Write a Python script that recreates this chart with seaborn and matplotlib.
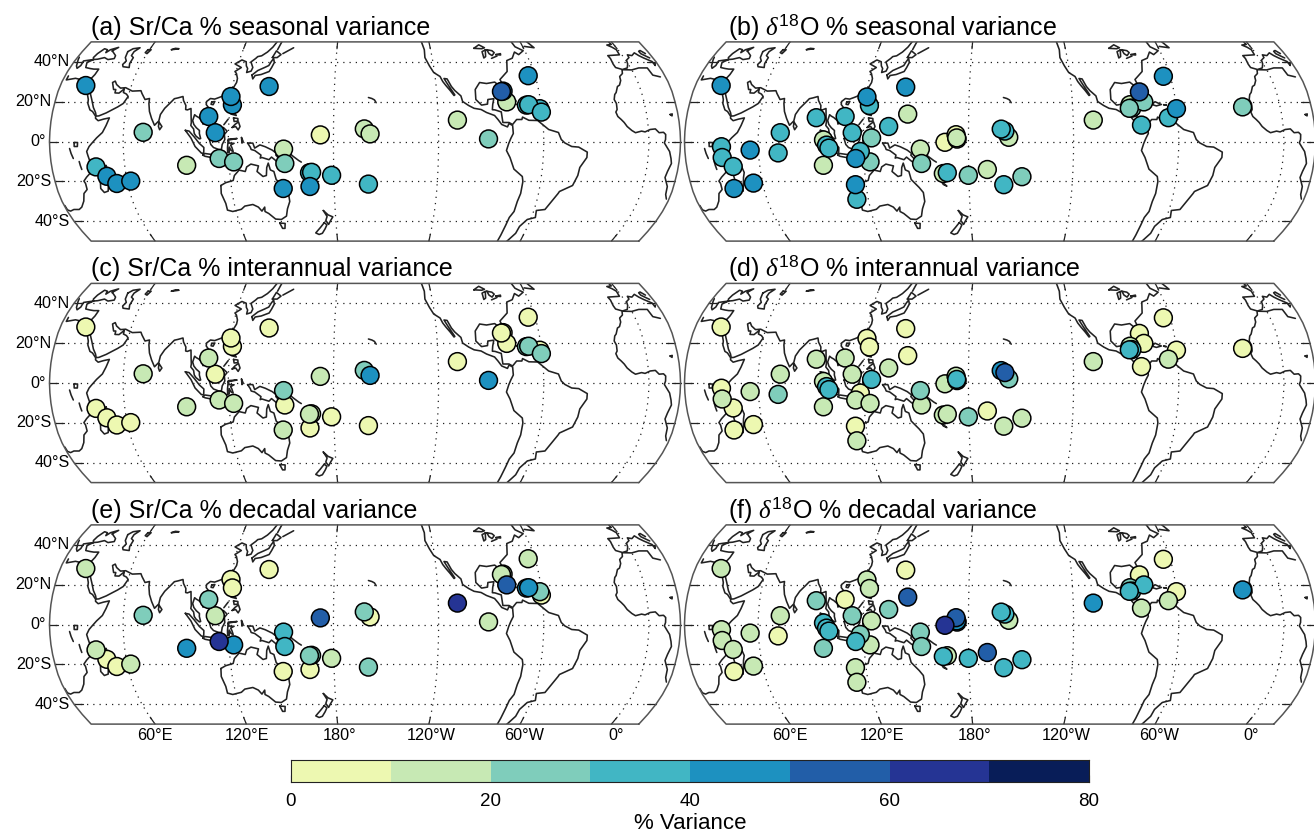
import numpy as np
import pandas as pd
import matplotlib
matplotlib.use("Agg")
import matplotlib.pyplot as plt
from matplotlib.colors import ListedColormap, BoundaryNorm
from matplotlib.patches import Polygon
import seaborn as sns

# site positions and % variance
sr_lon = [33, 43.4, 48.7, 53.6, 62, 71.3, 95.6, 108.2, 112.5, 121.2, 119.8, 141.4, 114.5, 122.7, 151.5, 152, 150.2,
          166, 167.2, 165.9, 178.7, 172.5, 197.6, 200.9, 200, 251, 268.5, 280.3, 279, 278, 296, 291.5, 292.8, 299, 299.6]
sr_lat = [28, -12.7, -17.4, -21, -19.8, 4.6, -11.9, 12.5, 4.4, 18.3, 22.5, 27.5, -8.5, -10.2, -3.8, -11, -23.5,
          -15.6, -15.4, -22.5, -16.9, 3.3, 6.3, 3.8, -21.3, 10.7, 1.3, 19.8, 25.2, 25, 32.9, 18.2, 18.4, 16.4, 14.7]
sr_seasonal = [45, 35, 45, 45, 45, 25, 15, 45, 45, 44, 46, 45, 25, 25, 15, 25, 45,
               34, 36, 45, 35, 5, 15, 15, 35, 15, 25, 15, 44, 55, 45, 34, 35, 34, 36]
sr_interannual = [5, 5, 5, 5, 5, 15, 15, 15, 5, 4, 6, 5, 15, 15, 25, 5, 15,
                  16, 14, 5, 5, 15, 25, 45, 5, 5, 45, 5, 4, 6, 5, 24, 26, 5, 26]
sr_decadal = [15, 15, 5, 5, 15, 25, 45, 25, 15, 6, 4, 5, 65, 45, 35, 35, 5,
              26, 24, 5, 15, 55, 25, 5, 25, 65, 15, 55, 14, 16, 15, 44, 46, 26, 5]

o18_lon = [33.2, 39, 39, 44.7, 42.5, 54.6, 55.3, 72.5, 71.2, 92.5, 97.3, 99, 100.3, 96.6, 109, 113.6, 122.4, 120.4,
           134.3, 124.7, 118.2, 115.4, 123.5, 113.8, 113.2, 142.4, 144.9, 152.5, 153, 166.6, 172.9, 173.3, 173.5,
           165.3, 167.6, 179.7, 190.7, 200.2, 198.7, 200.8, 203, 210.7, 251.5, 279, 279.7, 281.5, 273.3, 272.7,
           274.2, 294.7, 299.9, 296, 338.3]
o18_lat = [28, -2.6, -8, -12.5, -23.5, -20.8, -4.3, 4.4, -5.7, 11.9, 0.8, -1.8, -3.3, -11.9, 12.5, 4.4, 18, 22.3,
           7.5, 1.8, -5, -8.5, -10.2, -21.6, -28.9, 27.2, 13.7, -3.8, -11, -0.4, 3.4, 1.8, 1.2,
           -16, -15.6, -16.9, -14, -21.6, 6.2, 5.2, 2.1, -17.6, 10.7, 8.2, 24.8, 19.8, 18.4, 16.6,
           16.7, 11.9, 16.4, 32.6, 17.3]
o18_seasonal = [45, 35, 35, 35, 45, 45, 45, 35, 35, 35, 15, 35, 36, 15, 35, 35, 35, 45,
                35, 25, 35, 45, 25, 45, 35, 45, 15, 15, 25, 5, 5, 15, 14,
                15, 35, 25, 15, 35, 36, 34, 15, 25, 15, 35, 55, 25, 15, 25,
                24, 35, 45, 45, 25]
o18_interannual = [5, 5, 15, 5, 5, 5, 15, 15, 25, 15, 15, 35, 36, 15, 15, 15, 6, 4,
                   15, 35, 5, 15, 15, 5, 15, 5, 5, 25, 15, 15, 15, 35, 34,
                   14, 16, 25, 5, 15, 45, 55, 25, 15, 15, 5, 5, 6, 15, 35,
                   34, 15, 5, 5, 5]
o18_decadal = [15, 15, 15, 16, 5, 15, 15, 15, 5, 25, 35, 35, 36, 25, 5, 25, 16, 14,
               25, 15, 25, 35, 15, 15, 15, 5, 55, 25, 25, 65, 55, 45, 44,
               35, 15, 35, 55, 35, 36, 34, 15, 35, 45, 15, 5, 35, 25, 35,
               34, 15, 5, 5, 45]

level_edges = [0, 10, 20, 30, 40, 50, 60, 70, 80]
level_colors = ["#edf8b1", "#c7e9b4", "#7fcdbb", "#41b6c4", "#1d91c0", "#225ea8", "#253494", "#081d58"]
cbar_ticks = [0, 20, 40, 60, 80]
lat_ticks = [40, 20, 0, -20, -40]
lat_names = ["40°N", "20°N", "0°", "20°S", "40°S"]
lon_ticks = [60, 120, 180, 240, 300, 360]
lon_names = ["60°E", "120°E", "180°", "120°W", "60°W", "0°"]

# rough coastlines, lon/lat
coasts = [
    # africa
    [(-5.9, 35.8), (-6.8, 34), (-9.3, 32.5), (-9.8, 30.5), (-11.5, 28.2), (-13, 27.5), (-14.9, 24.5), (-16, 23.5), (-17, 21),
     (-16.2, 19), (-16.5, 16), (-17.5, 14.7), (-16.7, 12.5), (-15, 11), (-13.5, 9.5), (-12, 7.5), (-9.5, 5.5), (-7.5, 4.4),
     (-4, 5.2), (-2, 4.8), (1, 6), (4, 6.3), (6, 4.4), (8.5, 4.6), (9.7, 3.5), (9.5, 1), (8.8, -0.7), (10.5, -3), (12, -5),
     (13.2, -8.5), (13.8, -11), (12.3, -15), (11.7, -18), (14.4, -22.5), (15, -26.5), (16.5, -28.8), (18.3, -32), (18.5, -34.2),
     (20, -34.8), (22.5, -34), (25.7, -34), (28, -32.8), (31, -29.8), (32.8, -26), (35.4, -24), (35.4, -21), (34.8, -19.8),
     (36.9, -17.8), (40.5, -15), (40.6, -11), (39.5, -7), (39, -5), (40.5, -2.5), (42, -1), (44.8, 1.8), (48, 4.5), (49.8, 8),
     (51.2, 11.8), (48, 11.2), (45, 10.4), (43.3, 11.6), (43.2, 12.6), (41, 15), (39.3, 15.8), (37.3, 19), (37, 21), (35.5, 24),
     (34, 26.6), (32.6, 29.9), (32.3, 31.2), (29, 30.9), (25, 31.6), (20, 30.8), (20, 32.8), (15, 32.3), (11, 33.2), (10.2, 36.8),
     (5, 36.8), (0, 35.8), (-5.3, 35.9)],
    # asia
    [(32.6, 29.9), (34.3, 27.8), (35, 29.5), (34.8, 28), (37, 24.5), (39, 21), (41, 17), (42.8, 14.5), (43.5, 12.7), (45, 12.8),
     (49, 14.3), (52, 15.8), (55, 17.3), (57.8, 19), (59.8, 22.5), (58.5, 23.7), (56.5, 24.5), (56.4, 26.3), (54, 24.2), (51.6, 24.3),
     (51.5, 26), (50.2, 26), (48.2, 29.5), (49.5, 30.2), (51, 28.5), (54, 26.7), (57, 26.9), (61.5, 25.2), (66.5, 25.4), (67.5, 24),
     (70, 21), (72.5, 21.5), (72.7, 19), (73.8, 15), (75.5, 11.5), (77.5, 8.1), (79.8, 10.3), (80.3, 13.5), (82.3, 16.6), (85.5, 19.8),
     (87, 21.4), (89, 21.8), (91.8, 22.5), (92.5, 20.5), (94.3, 18), (94.5, 16), (95.5, 15.8), (97.5, 16.5), (98, 13), (98.5, 9.5),
     (98.3, 8), (100, 6.3), (100.5, 4), (101.5, 2.7), (103.5, 1.3), (104.2, 1.5), (103.4, 4), (103.4, 5.5), (101.5, 6.9), (100, 8.5),
     (99.2, 10.5), (100, 13.4), (101, 12.7), (102.5, 12), (104.8, 10.4), (105.2, 8.7), (106.7, 10.3), (109, 11.5), (109.3, 13.5),
     (108.5, 16), (106, 18.5), (106, 20), (108, 21.5), (110.5, 21.2), (113.5, 22.2), (117, 23.5), (120, 26), (121.8, 29.5), (121.8, 31.5),
     (120.5, 34), (119.3, 35), (122.5, 37), (120.5, 37.8), (118, 38.8), (121.5, 40.8), (124.5, 39.9), (125.3, 37.8), (126.5, 36.5),
     (126.5, 34.5), (129, 35.2), (129.5, 37), (127.5, 39.8), (129.7, 41.5), (130.7, 42.5), (133, 42.9), (136, 44.8), (138.5, 47.3), (140.5, 50.5)],
    # europe, med coast through turkey
    [(-1.5, 50.5), (-1.8, 49.7), (-1.5, 48.7), (-4.7, 48.4), (-2.5, 47.3), (-1, 46), (-1.5, 43.4), (-9.2, 43), (-8.8, 41.5), (-9.3, 38.7),
     (-9, 37), (-5.5, 36), (-2, 36.8), (-0.3, 38.8), (0.5, 40.7), (3.2, 42), (3.5, 43.4), (6, 43), (8.8, 44.4), (10.3, 43), (12.2, 41.8),
     (15.7, 40), (16, 38), (16.8, 39), (18.4, 40), (16, 41.8), (12.5, 44), (12.4, 45.2), (13.7, 45.6), (15.5, 44), (19, 42.2), (19.5, 41),
     (21.2, 37.8), (22.5, 36.6), (23.7, 38), (23.5, 40.3), (26.5, 40.7), (29, 41), (26.3, 39.5), (27.5, 37), (30.5, 36.5), (33, 36.2),
     (36, 36.2), (35.5, 33.5), (34.3, 31.3), (32.3, 31.2)],
    # black sea, caspian, aral, balkhash
    [(29, 41), (31.5, 41.2), (35, 42), (38, 41), (41.5, 41.5), (41, 43), (37.5, 45), (36.6, 45.3), (39, 47.2), (35, 46), (33.5, 44.5),
     (33, 46), (30.7, 46.5), (28.7, 44), (28, 42), (29, 41)],
    [(47, 45), (49, 46.5), (53, 47), (51, 45), (51, 43), (53, 42), (53, 39), (54, 37), (50, 37.4), (49, 38.5), (50, 40.3), (48, 42), (47, 45)],
    [(59, 46), (61, 46), (60, 44), (58.5, 44.5), (59, 46)],
    [(74, 46), (76, 46.7), (78.5, 46.5), (76, 46.2), (74, 46)],
    # lakes in africa
    [(32, -0.5), (34, -0.5), (33.8, -2.5), (32, -2.5), (32, -0.5)],
    [(29.3, -3.5), (30, -6), (31, -8.5)],
    [(34.2, -10), (34.5, -12), (35, -14)],
    [(13.5, 13.5), (14.8, 13.8), (14.5, 12.8), (13.5, 13.5)],
    # madagascar, sri lanka
    [(49.3, -12), (50.5, -15.5), (49.5, -18), (47.5, -24.8), (45, -25.5), (43.5, -23.5), (44.3, -20), (44, -17), (46.5, -15.5), (48, -13.5), (49.3, -12)],
    [(80, 9.7), (81.8, 7.5), (80.6, 5.9), (79.8, 7.5), (80, 9.7)],
    # indonesia and around
    [(95.3, 5.6), (97.5, 5.2), (100.5, 2.3), (103.5, -1), (106, -3), (105.8, -5.9), (104.5, -5.8), (101, -2.5), (98.7, 1.7), (95.3, 5.6)],
    [(105.2, -6.8), (106.5, -6), (110.5, -6.5), (114.5, -7.8), (114.3, -8.7), (110, -8), (106.5, -7.4), (105.2, -6.8)],
    [(109, 1.5), (111.3, 2.6), (113, 3.2), (115.5, 5.5), (117, 7), (119.2, 5.2), (117.7, 3.5), (118, 1), (116.5, -1.5), (116, -4),
     (114.5, -4), (111.5, -3), (110, -1.5), (109, 1.5)],
    [(119.5, -5.5), (120.4, -5.5), (120.5, -2.8), (121.5, -4.5), (122.7, -5), (122, -3), (121.3, -1.8), (123.3, -0.9), (120.5, -0.8),
     (120, 0.7), (125, 1.5), (120, 1.2), (119.5, -3), (119.5, -5.5)],
    [(131, -0.8), (134, -0.8), (135, -3.3), (138, -1.7), (141, -2.6), (145, -4.3), (147.5, -6), (147, -6.8), (150.5, -10.3), (147.5, -10),
     (144.5, -7.8), (143, -9.1), (139, -8), (138, -8.3), (138.5, -6.8), (135, -4.5), (133, -4), (132.5, -2.8), (131, -0.8)],
    [(148.5, -5.6), (152, -4.2), (151, -5.5), (148.5, -6.2), (148.5, -5.6)],
    [(123.5, -10.3), (127, -8.4), (125, -9.5), (123.5, -10.3)],
    [(116, -8.5), (119, -8.5), (123, -8.4), (119, -9), (116, -8.5)],
    [(127.5, 2), (128.5, 0), (127.8, -0.8), (127.5, 2)],
    [(155, -6), (157, -7.5), (160, -9.5), (161.5, -10.3)],
    [(166.7, -15), (167.5, -16.5), (168.5, -17.8)],
    [(164, -20), (167, -22.3), (165, -21.5), (164, -20)],
    [(177.3, -17.5), (178.5, -18), (177.5, -18.2), (177.3, -17.5)],
    # philippines, taiwan, hainan
    [(122, 7), (124, 7.5), (125.5, 5.8), (126.5, 7.5), (125.5, 9.8), (123.5, 8.5), (122, 7)],
    [(120.5, 18.5), (122.2, 18.4), (121.5, 16), (124, 13), (121, 13.7), (120, 15.5), (120.5, 18.5)],
    [(117.2, 8.4), (119.5, 11.2)],
    [(122.5, 11.8), (125, 11.5), (125.2, 10.2), (123, 10), (122.5, 11.8)],
    [(121, 25), (122, 25), (120.8, 22), (120.2, 23), (121, 25)],
    [(109, 19.8), (110.8, 20), (110, 18.4), (108.8, 18.6), (109, 19.8)],
    # japan, sakhalin, kuriles
    [(130, 33.2), (131, 31.3), (132, 33), (135.5, 33.5), (140, 35), (141, 37), (142, 39.5), (141, 41.5), (140, 40), (139, 38), (136.7, 37), (133, 35.5), (130, 33.2)],
    [(140, 42), (141.5, 45.4), (145, 43.5), (143, 42), (140, 42)],
    [(142, 46), (143, 49), (143.5, 50.5)],
    [(146, 44), (149, 45.5), (152, 47)],
    # australia, tasmania, nz
    [(114, -22), (113.5, -26), (115, -31), (115, -34.3), (118, -35), (123.5, -33.9), (126, -32.3), (131, -31.5), (134, -32.8), (135.7, -34.8),
     (137.8, -32.8), (137.5, -35), (139.5, -36), (143, -38.8), (146.5, -39), (150, -37.3), (151.3, -33.7), (153.3, -30), (153, -25.5),
     (150.8, -23), (146.5, -19), (145.5, -15), (143.5, -14.2), (142.5, -10.8), (141.5, -13), (141, -17), (139, -17.5), (135.8, -15),
     (136.8, -12.2), (132.5, -11.3), (130, -12.7), (129, -15), (125.5, -14.3), (122.5, -17), (121.5, -19.5), (117, -20.6), (114, -22)],
    [(145, -40.8), (148.3, -41), (147.5, -43.5), (146, -43.5), (145, -40.8)],
    [(172.8, -34.5), (175.5, -36.7), (178.3, -37.7), (176.8, -39.5), (175.3, -41.5), (173.8, -39.5), (174.8, -37.5), (172.8, -34.5)],
    [(172.7, -40.6), (174.2, -41.7), (172.8, -43.7), (170.7, -46), (168.5, -46.6), (166.5, -45.8), (170, -43), (172.7, -40.6)],
    # hawaii
    [(-160, 22), (-158, 21.5), (-156.5, 20.8), (-155.5, 19.4)],
    # americas
    [(-125, 50.5), (-124, 46), (-124.5, 42), (-122.5, 37.8), (-120.5, 34.5), (-117, 32.5), (-115.8, 30), (-114.2, 28), (-112, 25.5), (-110, 23),
     (-109.5, 23.3), (-111, 25.5), (-113, 28.5), (-114.8, 31.5), (-113, 31.3), (-111, 27.5), (-109.3, 25.5), (-106, 22.8), (-105.3, 20),
     (-102, 18), (-99, 16.6), (-95, 16), (-92, 14.5), (-87.5, 13), (-85.7, 11), (-83.7, 8.5), (-80.5, 7.3), (-79.5, 9), (-77.5, 8), (-77.3, 4),
     (-78.8, 1.5), (-80, -1), (-81.2, -4.5), (-79, -8), (-76.3, -13.8), (-71, -17.5), (-70.3, -20), (-70.5, -26), (-71.5, -30), (-71.8, -35),
     (-73.5, -38), (-74, -42), (-74.5, -47), (-75, -50.5)],
    [(-69, -50.5), (-65.5, -46), (-65, -42.5), (-62, -39), (-57.5, -38), (-58.5, -34.5), (-53.5, -34), (-48.5, -26), (-48, -25), (-41, -22),
     (-39, -17), (-38.5, -13), (-35, -8), (-35, -5.3), (-40, -2.8), (-44, -2.5), (-48, -0.7), (-50, 1), (-51.5, 4.5), (-57, 6), (-61, 9),
     (-63, 10.5), (-68, 10.6), (-71.5, 12.2), (-72, 11), (-75, 11), (-77.5, 8.5), (-79.5, 9.5), (-83, 9.5), (-83.5, 14.8), (-87, 15.8),
     (-88.5, 15.9), (-88, 18.5), (-87, 21.4), (-90.5, 21), (-91, 18.7), (-94.5, 18.2), (-97.5, 21), (-97.2, 26), (-94, 29.5), (-90, 29),
     (-85, 29.7), (-82.8, 28), (-81, 25.2), (-80, 26.8), (-81.5, 31), (-76, 35), (-74, 40.5), (-70, 41.7), (-67, 44.8), (-65, 43.5), (-61, 45.5),
     (-65, 47.5), (-66, 50.5)],
    # great lakes, newfoundland
    [(-92, 46.7), (-88, 48.5), (-85, 47), (-87, 46.5), (-92, 46.7)],
    [(-85, 45.9), (-87.5, 45), (-87.7, 41.8), (-86.3, 42.5), (-85, 45.9)],
    [(-84, 46), (-81, 45.5), (-80, 44.5), (-82, 43), (-83.5, 44), (-84, 46)],
    [(-83, 41.6), (-79, 42.8)],
    [(-79.5, 43.5), (-76.3, 44), (-76.5, 43.3), (-79.5, 43.5)],
    [(-59, 47.7), (-53, 47), (-56, 50.5)],
    # caribbean
    [(-85, 21.9), (-82, 23.1), (-77, 20.7), (-74.2, 20.2), (-77.5, 19.9), (-78, 20.7), (-82, 22), (-85, 21.9)],
    [(-74, 18.5), (-72, 19.9), (-68.5, 18.5), (-71.5, 17.8), (-74, 18.5)],
    [(-78.3, 18.4), (-76.3, 18), (-78.3, 18.4)],
    [(-67.2, 18.4), (-65.7, 18.2), (-67.2, 18.4)],
]

# robinson table
rob_lat = [0, 5, 10, 15, 20, 25, 30, 35, 40, 45, 50, 55]
rob_ple = [1, 0.9986, 0.9954, 0.99, 0.9822, 0.973, 0.96, 0.9427, 0.9216, 0.8962, 0.8679, 0.8350]
rob_pdfe = [0, 0.062, 0.124, 0.186, 0.248, 0.31, 0.372, 0.434, 0.4958, 0.5571, 0.6176, 0.6769]

lon_0 = 198
px_deg = 1.753
y_scale = 92
W, H = 1314, 833


def project(lon, lat):
    lon = np.asarray(lon, dtype=float)
    lat = np.asarray(lat, dtype=float)
    dlon = (lon - lon_0 + 180) % 360 - 180
    x = np.interp(np.abs(lat), rob_lat, rob_ple) * dlon
    y = np.sign(lat) * np.interp(np.abs(lat), rob_lat, rob_pdfe) * y_scale
    return x, y


def draw_map(ax, clip):
    # graticule
    lats = np.linspace(-50, 50, 101)
    lons = np.linspace(-180, 180, 181)
    for lat in lat_ticks:
        x = lons * np.interp(abs(lat), rob_lat, rob_ple)
        y = np.full_like(x, project(0, lat)[1])
        ax.plot(x, y, color="#222222", lw=0.9, ls=(0, (1, 4)), zorder=1)
        for side in (-1, 1):
            ax.plot([side * x[-1], side * (x[-1] - 5)], [y[0], y[0]], color="#222222", lw=0.9, zorder=1)
    for lon in lon_ticks:
        x, y = project(np.full_like(lats, lon), lats)
        ax.plot(x, y, color="#222222", lw=0.9, ls=(0, (1, 4)), zorder=1)
        for side in (-1, 1):
            x2, y2 = project([lon, lon], [side * 50, side * 46.5])
            ax.plot(x2, y2, color="#222222", lw=0.9, zorder=1)
    # coast
    for seg in coasts:
        lon, lat = zip(*seg)
        x, y = project(lon, lat)
        # break where a line runs over the map edge
        jump = np.where(np.abs(np.diff(x)) > 180)[0]
        x = np.insert(x, jump + 1, np.nan)
        y = np.insert(y, jump + 1, np.nan)
        line = ax.plot(x, y, color="#222222", lw=1.15, zorder=2, solid_joinstyle="round")[0]
        line.set_clip_path(clip)
    # frame
    fx, fy = clip.get_xy().T
    ax.plot(fx, fy, color="#555555", lw=1.1, zorder=3, clip_on=False)


sns.set_theme(style="white")
plt.rcParams["font.family"] = ["Liberation Sans"]
plt.rcParams["mathtext.fontset"] = "custom"
plt.rcParams["mathtext.rm"] = "Liberation Sans"
plt.rcParams["mathtext.it"] = "Liberation Serif:italic"

level_cmap = ListedColormap(level_colors)
level_norm = BoundaryNorm(level_edges, len(level_colors))

panels = [
    (365, 141.5, "(a) Sr/Ca % seasonal variance", sr_lon, sr_lat, sr_seasonal),
    (1000, 141.5, r"(b) $\mathit{\delta}^{\mathrm{18}}$O % seasonal variance", o18_lon, o18_lat, o18_seasonal),
    (365, 383, "(c) Sr/Ca % interannual variance", sr_lon, sr_lat, sr_interannual),
    (1000, 383, r"(d) $\mathit{\delta}^{\mathrm{18}}$O % interannual variance", o18_lon, o18_lat, o18_interannual),
    (365, 624.5, "(e) Sr/Ca % decadal variance", sr_lon, sr_lat, sr_decadal),
    (1000, 624.5, r"(f) $\mathit{\delta}^{\mathrm{18}}$O % decadal variance", o18_lon, o18_lat, o18_decadal),
]

fig = plt.figure(figsize=(W / 100, H / 100), dpi=100)

half_w, half_h = 320, 104
for i, (cx, cy, title, lon, lat, vals) in enumerate(panels):
    ax = fig.add_axes([(cx - half_w) / W, 1 - (cy + half_h) / H, 2 * half_w / W, 2 * half_h / H])

    side = np.linspace(-50, 50, 41)
    right = np.interp(np.abs(side), rob_lat, rob_ple) * 180
    sy = np.sign(side) * np.interp(np.abs(side), rob_lat, rob_pdfe) * y_scale
    frame = np.vstack([np.c_[right, sy], np.c_[-right[::-1], sy[::-1]], [[right[0], sy[0]]]])
    clip = Polygon(frame, closed=True, transform=ax.transData)
    draw_map(ax, clip)

    x, y = project(lon, lat)
    df = pd.DataFrame({"x": x, "y": y, "value": vals}).sort_values("value", kind="mergesort")
    sns.scatterplot(data=df, x="x", y="y", hue="value", palette=level_cmap, hue_norm=level_norm,
                    s=165, edgecolor="black", linewidth=1.1, legend=False, ax=ax, zorder=5, clip_on=False)
    ax.set_xlim(-half_w / px_deg, half_w / px_deg)
    ax.set_ylim(-half_h / px_deg, half_h / px_deg)
    ax.axis("off")

    top = sy[-1]
    ax.text(-right[-1] + (1 if cx > 500 else 0), top + 7 / px_deg, title, fontsize=18, ha="left", va="baseline", color="black")

    if cx < 500:
        for la, name in zip(lat_ticks, lat_names):
            xl = -np.interp(abs(la), rob_lat, rob_ple) * 180
            yl = project(0, la)[1]
            ax.text(xl - 4 / px_deg, yl, name, fontsize=11.6, ha="right", va="center", color="black", clip_on=False)
    if cy > 600:
        for lo, name in zip(lon_ticks, lon_names):
            xl = ((lo - lon_0) * 1.54 + 2) / px_deg
            ax.text(xl, sy[0] - 11.5 / px_deg, name, fontsize=11.7, ha="center", va="center", color="black")

# colour bar
cax = fig.add_axes([291 / W, 1 - 782 / H, 798 / W, 22 / H])
cax.pcolormesh(level_edges, [0, 1], [[(a + b) / 2 for a, b in zip(level_edges[:-1], level_edges[1:])]],
               cmap=level_cmap, norm=level_norm)
cax.set_yticks([])
cax.set_xticks(cbar_ticks)
cax.tick_params(axis="x", direction="in", length=5, width=0.8, color="black", labelcolor="black",
                labelsize=13.5, pad=8, bottom=True)
cax.set_xlabel("% Variance", fontsize=16, labelpad=2, color="black")
for sp in cax.spines.values():
    sp.set_linewidth(0.8)
    sp.set_color("#222222")

fig.savefig("out.png", dpi=100)
